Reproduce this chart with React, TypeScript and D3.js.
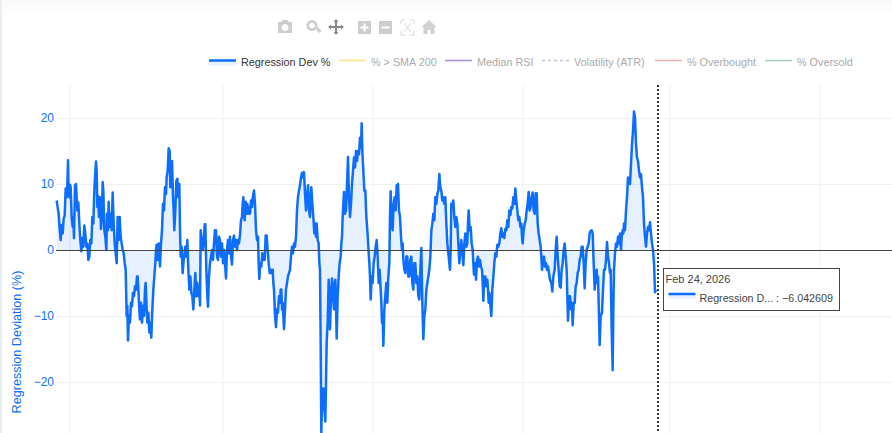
import { useEffect, useRef } from 'react';
import * as d3 from 'd3';

const WIDTH = 892;
const HEIGHT = 433;
const PLOT = { left: 56, right: 892, top: 85, bottom: 433 };
const BLUE = '#0d6efd';
const FONT = 'Arial, "Liberation Sans", Helvetica, sans-serif';

type Sample = [number, number];

// [position on the time axis, regression deviation %], one pixel = 3 units
const regressionFirstStretch: Sample[] = [
  [170, 7.5], [172, 6.8], [176, 5.5], [179, 3.2], [182, 1.5], [185, 3.8], [188, 2.5], [191, 4.8], [194, 5.2], [197, 9.3], [200, 8], [202, 9.8], [204, 13.6], [206, 8.3], [208, 8], [210, 9.9], [212, 9.5], [215, 5], [218, 3.5], [220, 5], [222, 1.8], [225, 9.8], [228, 10], [230, 8], [232, 6], [235, 7.2], [238, 4], [241, 1.5], [244, -0.2], [247, 1.8], [250, 0.5], [253, 3.7], [256, 2.5], [259, 0.5], [262, 1], [265, -1.5], [268, -1], [271, 1.5], [274, 1], [277, 5], [280, 4], [283, 9], [285, 11], [288, 13.4], [290, 12], [292, 6.5], [294, 8.2], [297, 5], [300, 8], [303, 3.2], [306, 5], [308, 10.3], [310, 9], [313, 3], [316, 2], [319, 0], [321, 5.5], [324, 3], [326, 7.3], [329, 3.5], [332, 5.5], [335, 3], [338, 8.7], [341, 4], [344, 1], [347, -0.5], [350, -2], [353, 5], [356, 1.5], [359, 5], [362, 2], [365, 1], [368, 0], [371, -0.5],
  [374, -2], [377, -3], [380, -10], [382, -8.5], [384, -13.7], [387, -10], [390, -11], [393, -8], [396, -8.5], [399, -6.5], [402, -7], [405, -5.5], [408, -6], [411, -4], [413, -4], [416, -7], [418, -9], [420, -10.5], [423, -8], [426, -11], [429, -8.5], [432, -10], [435, -6], [437, -5], [440, -9], [442, -11], [445, -9.5], [448, -12.5], [451, -11], [454, -13.3], [457, -9], [460, -6], [463, -4], [466, -2], [468, 0], [470, 0.8], [473, -1.5], [476, 1], [480, -2.5], [483, 1], [486, 3], [489, 7], [492, 6], [495, 9.5], [498, 8.5], [500, 11], [503, 12], [506, 15.4], [509, 15], [511, 9.5], [514, 11], [516, 13.5], [519, 8], [521, 6], [523, 3], [526, 6], [529, 10.5], [532, 10.8], [535, 8], [538, 10], [540, 3], [542, -1], [545, 0.5], [548, -3.5], [551, -1.5], [553, -1], [556, 0.5], [559, -1], [562, 1.5], [565, -3], [568, -6], [571, -4], [574, -6.5], [577, -7], [580, -9], [583, -6], [586, -3.5], [589, -7], [592, -5], [595, -7], [598, -6], [600, -8.4], [602, 3], [605, 1.5], [608, 0], [611, 1], [614, 3.9], [616, 3.9], [619, -3], [622, -7], [624, -8.6], [627, -4], [630, -2], [633, -1], [636, 0], [639, -1.5], [642, 1], [645, 3], [648, 3], [651, -1], [654, -1.5], [657, 2], [660, 1.5], [663, -1], [666, 1], [669, -2], [672, 0], [675, -2], [678, -4.3], [681, 0], [684, 1.5], [687, -0.5], [690, 2],
];

const regressionSecondStretch: Sample[] = [
  [693, -1], [696, -2.2], [699, 1.5], [702, 2.2], [705, 0.5], [708, 1.5], [711, 0], [714, 1.5], [717, 1], [720, 2.3], [723, 4.5], [726, 5], [728, 7], [730, 8], [732, 5.5], [734, 4.5], [737, 7.3], [740, 5.5], [742, 7], [744, 5.5], [747, 6.5], [750, 5.5], [753, 7.5], [756, 6.5], [759, 8.2], [762, 9], [765, 7], [768, 3], [771, 1.5], [774, 2], [776, -2], [778, -4.4], [781, -2], [784, -2.5], [787, -0.5], [790, -1.5], [794, -1.5], [797, 2.2], [800, 2.2], [803, 0], [806, -2], [809, -3.5], [812, -3], [815, -3.5], [818, -3], [820, -5], [822, -6], [825, -10], [828, -11.7], [831, -9], [834, -9.5], [837, -7], [840, -8], [842, -6], [844, -6], [846, -9], [848, -8], [850, -10], [852, -12], [855, -9], [858, -6], [861, -5], [864, -4], [867, -3.5], [870, -3], [873, -1], [876, 0.5], [879, -0.5], [882, 1], [885, 0.5], [888, 2], [891, 6], [894, 8], [897, 9], [900, 9.8], [903, 11], [906, 11.7], [909, 11], [912, 11.8], [915, 8.5], [918, 6], [921, 8], [924, 9.8], [927, 6], [930, 5], [932, 8], [934, 9.5], [937, 7], [940, 5], [943, 2.5], [946, 4], [948, 2], [950, 4], [953, 1.5], [956, 1], [958, -2], [960, -3], [962, -14], [964, -27.7], [967, -21], [970, -21], [973, -24], [976, -26], [978, -20], [980, -14], [983, -11], [986, -4.5], [988, -7], [990, -12], [993, -7], [996, -4.3], [999, -7], [1002, -9], [1004, -5], [1006, -4.5], [1008, -8], [1010, -13.4], [1013, -7], [1016, -4], [1019, -2], [1022, -1], [1024, 1], [1026, 2], [1028, 5], [1030, 7], [1032, 8.8], [1035, 5.5], [1038, 6], [1041, 10], [1044, 14.1], [1047, 8], [1050, 5], [1053, 7], [1056, 10], [1059, 12], [1062, 14], [1065, 12.5], [1068, 15], [1071, 13.5], [1074, 15], [1077, 14.5], [1080, 17], [1083, 15.5], [1085, 19.2], [1087, 15], [1090, 12], [1093, 9], [1096, 9], [1099, 5], [1102, 3], [1105, 0.5], [1108, -2], [1110, -4], [1112, -7.5], [1115, -4], [1118, -5], [1121, -2], [1124, -1], [1127, 0.5], [1130, 1.5], [1133, -1], [1136, -5], [1139, -3], [1142, -6], [1144, -8], [1146, -11], [1148, -10], [1150, -14.5], [1153, -9], [1156, -7], [1159, -5], [1162, -8], [1165, -4], [1168, -2], [1170, 5], [1172, 8.9], [1175, 4], [1178, 3], [1181, 7], [1184, 8], [1187, 6], [1190, 9.8], [1192, 8], [1194, 10], [1197, 6], [1200, 5], [1203, 2], [1206, 0], [1208, 1], [1210, -1.5], [1213, -3], [1216, -3.5], [1219, -1], [1222, -1], [1225, -4], [1228, -4], [1231, -1.5], [1234, -1], [1237, -5], [1240, -6], [1243, -2], [1246, -2], [1249, -5], [1252, -4], [1255, -7], [1258, -7.5], [1261, -3], [1264, 0.3], [1267, -8], [1270, -13.5], [1273, -10], [1276, -9], [1279, -6], [1282, -5], [1285, -4], [1288, -3], [1291, -1], [1294, 3], [1297, 4], [1300, 5.5], [1303, 4.5], [1306, 8], [1309, 7], [1312, 8.5], [1315, 9], [1318, 11.5], [1321, 9.5], [1324, 9], [1327, 7.5], [1330, 8], [1333, 7], [1336, 8], [1339, 4], [1342, 1], [1346, -1], [1350, -3],
];

const regressionThirdStretch: Sample[] = [
  [1352, 0], [1354, 7], [1357, 6.5], [1360, 7.5], [1363, 5], [1366, 3.5], [1369, 5], [1372, 4], [1375, 1], [1378, -2], [1381, 0], [1384, 1.5], [1387, -0.5], [1390, -2.3], [1393, 1], [1396, 2.5], [1399, 0.5], [1402, 1], [1404, 4], [1406, 6], [1409, 3], [1412, 3.5], [1415, 1], [1418, 0], [1420, -2], [1422, -3.7], [1425, -2], [1428, -4.5], [1431, -1.5], [1434, -1], [1437, -2.5], [1440, -1.5], [1443, -2.5], [1446, -3], [1448, -5], [1450, -7.7], [1453, -4], [1456, -4], [1459, -5.5], [1462, -4.5], [1464, -6], [1466, -8], [1468, -6.5], [1470, -7.5], [1472, -9], [1474, -10], [1477, -6], [1480, -4], [1483, -2], [1486, -0.5], [1489, -1], [1492, 0.8], [1495, 0.5], [1498, 1], [1501, 2.5], [1504, 3.3], [1507, 2], [1510, 2.5], [1513, 1.8], [1516, 3.2], [1519, 3], [1522, 4.5], [1525, 3.5], [1528, 6], [1531, 5.3], [1534, 6.5], [1537, 6.3], [1540, 8], [1543, 7], [1546, 9.3], [1549, 7.5], [1552, 6], [1555, 4.5], [1558, 5], [1561, 3.5], [1564, 4], [1566, 2], [1568, 1], [1571, 3], [1574, 4], [1577, 4.5], [1580, 6], [1583, 7], [1586, 8.8], [1589, 6], [1592, 6.5], [1595, 8], [1598, 8.7], [1601, 6], [1604, 5.5], [1607, 8.6], [1610, 8.6], [1613, 4], [1616, 2.5], [1619, 1.5], [1622, 0.5], [1624, -1], [1626, -3], [1629, -1.5], [1632, -1], [1635, -2.5], [1638, -2], [1641, -3], [1644, -2.5], [1647, -3.5], [1650, -4.5], [1654, -5], [1657, -6.3], [1660, -4], [1664, -3], [1667, 0], [1670, 2], [1673, -1], [1676, -3], [1679, -5.5], [1682, -5.7], [1685, -3], [1688, -2], [1691, 0], [1694, 1], [1697, -1], [1700, -3], [1702, -7], [1704, -10.7], [1707, -7], [1710, -7], [1713, -9], [1716, -8], [1718, -11.4], [1721, -8], [1724, -8], [1727, -5.5], [1730, -5], [1733, -3.5], [1736, -3], [1739, -1.5], [1742, -1], [1745, 0.5], [1748, 0.5], [1751, -2], [1754, -5.8], [1757, -2], [1760, 0], [1763, 0.5], [1766, 1], [1769, 2.5], [1772, 2.9], [1775, 3], [1778, 2.5], [1781, -2], [1784, -6], [1787, -4], [1790, -3], [1792, -5], [1794, -4], [1797, -10], [1799, -14.4], [1802, -10], [1806, -9.5], [1809, -6], [1812, -3], [1815, -3], [1818, -1.5], [1821, 1.2], [1824, -1], [1827, -2], [1830, -3.5], [1832, -3], [1835, -12], [1838, -18.2], [1840, -9], [1842, -3], [1845, -0.5], [1848, 1], [1851, 0.5], [1854, 2], [1857, 1], [1860, 2.5], [1863, 0], [1865, 2], [1868, 3], [1870, 2.5], [1872, 4], [1875, 3], [1878, 6], [1881, 8], [1884, 11], [1887, 10.5], [1890, 10], [1893, 13], [1896, 16], [1899, 18], [1902, 21], [1905, 20], [1908, 16], [1911, 14], [1914, 13.5], [1917, 12], [1920, 11], [1923, 11.5], [1926, 9.5], [1929, 8], [1932, 4], [1935, 2], [1938, 0.5], [1941, 2.5], [1944, 3.5], [1947, 3], [1950, 4.2], [1953, 2.5], [1956, 1], [1959, 0], [1962, -2], [1965, -6.4], [1968, -6.04],
];

const xGridSessions = [210, 669, 1119, 1569, 2010, 2460];
const spikeSession = 1974;
const yTickValues = [-20, -10, 0, 10, 20];

const legendNames = ['Regression Dev %', '% > SMA 200', 'Median RSI', 'Volatility (ATR)', '% Overbought', '% Oversold'];
const legendColors = [BLUE, '#ffc107', '#6f42c1', '#6c757d', '#dc3545', '#198754'];
const legendDash = ['', '', '', '3 3', '', ''];
const legendOpacity = [1, 0.5, 0.6, 0.4, 0.4, 0.4];
const legendSwatchX = [209, 339, 445, 542, 655, 765];

const tooltipDate = 'Feb 24, 2026';
const tooltipLabel = 'Regression D... : −6.042609';

export default function App() {
  const svgRef = useRef<SVGSVGElement | null>(null);

  useEffect(() => {
    const svgEl = svgRef.current;
    if (!svgEl) return;
    const svg = d3.select(svgEl);
    svg.selectAll('*').remove();

    const xScale = d3.scaleLinear().domain([0, 2676]).range([0, WIDTH]);
    const yScale = d3.scaleLinear().domain([-20, 20]).range([382, 118]);

    // ---- page chrome
    const defs = svg.append('defs');
    const grad = defs.append('linearGradient').attr('id', 'top-fade').attr('x2', 0).attr('y2', 1);
    grad.append('stop').attr('offset', 0).attr('stop-color', '#f9f9f9');
    grad.append('stop').attr('offset', 1).attr('stop-color', '#ffffff');
    svg.append('rect').attr('width', WIDTH).attr('height', HEIGHT).attr('fill', '#fff');
    svg.append('rect').attr('width', WIDTH).attr('height', 16).attr('fill', 'url(#top-fade)');
    svg.append('rect').attr('width', 2).attr('height', HEIGHT).attr('fill', '#e9eef3');

    // ---- modebar
    const bar = svg.append('g').attr('fill', '#cdcdcd');
    bar.append('path').attr('d', 'M278 22h3l1.5-2h5l1.5 2h3v11h-14z M285 24a3.5 3.5 0 1 0 .01 0z').attr('fill-rule', 'evenodd');
    bar.append('path').attr('d', 'M312 20a5.5 5.5 0 1 0 .01 0z M312 22.5a3 3 0 1 1-.01 0z M315.5 29l2-2 4 4-2 2z').attr('fill-rule', 'evenodd');
    bar.append('path').attr('d', 'M336 20v14M329 27h14').attr('stroke', '#888').attr('stroke-width', 2).attr('fill', 'none');
    bar.append('path').attr('d', 'M336 19l-2.5 3h5zM336 35l-2.5-3h5zM328 27l3-2.5v5zM344 27l-3-2.5v5z').attr('fill', '#888');
    bar.append('path').attr('d', 'M358 21h13v13h-13z M363.5 23.5v3h-3v2h3v3h2v-3h3v-2h-3v-3z').attr('fill-rule', 'evenodd');
    bar.append('path').attr('d', 'M379 21h13v13h-13z M381.5 26.5v2h8v-2z').attr('fill-rule', 'evenodd');
    bar.append('path').attr('d', 'M401 24v-4h4M410 20h4v4M414 31v4h-4M405 35h-4v-4M404 23l7 9M411 23l-7 9').attr('stroke', '#d8d8d8').attr('stroke-width', 1).attr('fill', 'none');
    bar.append('path').attr('d', 'M429 20l7.5 7h-2v7h-4v-4h-3v4h-4v-7h-2z').attr('fill', '#d2d2d2');

    // ---- legend
    const legend = svg
      .append('g')
      .selectAll('g')
      .data(legendNames)
      .join('g')
      .attr('transform', (_, i) => `translate(${legendSwatchX[i]}, 60.5)`);
    legend
      .filter((_, i) => i === 0)
      .append('rect')
      .attr('y', 0)
      .attr('width', 27)
      .attr('height', 5)
      .attr('fill', BLUE)
      .attr('fill-opacity', 0.1);
    legend
      .append('line')
      .attr('x2', 27)
      .attr('stroke', (_, i) => legendColors[i])
      .attr('stroke-opacity', (_, i) => legendOpacity[i])
      .attr('stroke-width', (_, i) => (i === 0 ? 2.5 : 1.5))
      .attr('stroke-dasharray', (_, i) => legendDash[i]);
    legend
      .append('text')
      .attr('x', 32)
      .attr('y', 5)
      .attr('font-family', FONT)
      .attr('font-size', 10.8)
      .attr('fill', (_, i) => (i === 0 ? '#333' : '#aaa'))
      .text((d) => d);

    // ---- grid
    svg
      .append('g')
      .selectAll('line')
      .data(xGridSessions)
      .join('line')
      .attr('x1', (d) => xScale(d))
      .attr('x2', (d) => xScale(d))
      .attr('y1', PLOT.top)
      .attr('y2', PLOT.bottom)
      .attr('stroke', '#f0f0f0');
    svg
      .append('g')
      .selectAll('line')
      .data(yTickValues.filter((d) => d !== 0))
      .join('line')
      .attr('x1', PLOT.left)
      .attr('x2', PLOT.right)
      .attr('y1', (d) => yScale(d) + 0.5)
      .attr('y2', (d) => yScale(d) + 0.5)
      .attr('stroke', '#f0f0f0');

    // ---- y axis
    svg
      .append('g')
      .selectAll('text')
      .data(yTickValues)
      .join('text')
      .attr('x', 54)
      .attr('y', (d) => yScale(d) + 4)
      .attr('text-anchor', 'end')
      .attr('font-family', FONT)
      .attr('font-size', 12)
      .attr('fill', BLUE)
      .text((d) => String(d).replace('-', '−'));
    svg
      .append('text')
      .attr('transform', 'translate(21, 342) rotate(-90)')
      .attr('text-anchor', 'middle')
      .attr('font-family', FONT)
      .attr('font-size', 12.6)
      .attr('fill', BLUE)
      .text('Regression Deviation (%)');

    // ---- series
    const points = [...regressionFirstStretch, ...regressionSecondStretch, ...regressionThirdStretch];
    svg
      .append('path')
      .datum(points)
      .attr('fill', BLUE)
      .attr('fill-opacity', 0.1)
      .attr(
        'd',
        d3
          .area<Sample>()
          .x((p) => xScale(p[0]))
          .y0(yScale(0))
          .y1((p) => yScale(p[1])),
      );
    svg
      .append('path')
      .datum(points)
      .attr('fill', 'none')
      .attr('stroke', BLUE)
      .attr('stroke-width', 2.5)
      .attr('stroke-linejoin', 'round')
      .attr(
        'd',
        d3
          .line<Sample>()
          .x((p) => xScale(p[0]))
          .y((p) => yScale(p[1])),
      );

    // ---- zero line + spike
    svg
      .append('line')
      .attr('x1', PLOT.left)
      .attr('x2', PLOT.right)
      .attr('y1', yScale(0) + 0.5)
      .attr('y2', yScale(0) + 0.5)
      .attr('stroke', '#444');
    svg
      .append('line')
      .attr('x1', xScale(spikeSession))
      .attr('x2', xScale(spikeSession))
      .attr('y1', PLOT.top)
      .attr('y2', PLOT.bottom)
      .attr('stroke', '#333')
      .attr('stroke-width', 2)
      .attr('stroke-dasharray', '2 2');

    // ---- hover tooltip
    const tip = svg.append('g').attr('transform', 'translate(663.5, 268.5)');
    tip.append('rect').attr('width', 176).attr('height', 42).attr('fill', '#fff').attr('stroke', '#444');
    tip
      .append('text')
      .attr('x', 2)
      .attr('y', 14.5)
      .attr('font-family', FONT)
      .attr('font-size', 11)
      .attr('fill', '#444')
      .text(tooltipDate);
    tip.append('rect').attr('x', 5).attr('y', 25).attr('width', 27).attr('height', 5).attr('fill', BLUE).attr('fill-opacity', 0.1);
    tip.append('line').attr('x1', 5).attr('x2', 32).attr('y1', 25.5).attr('y2', 25.5).attr('stroke', BLUE).attr('stroke-width', 2.5);
    tip
      .append('text')
      .attr('x', 36)
      .attr('y', 33)
      .attr('font-family', FONT)
      .attr('font-size', 10.7)
      .attr('fill', '#444')
      .text(tooltipLabel);
  }, []);

  return (
    <svg
      ref={svgRef}
      width={WIDTH}
      height={HEIGHT}
      viewBox={`0 0 ${WIDTH} ${HEIGHT}`}
      style={{ position: 'fixed', left: 0, top: 0, display: 'block' }}
    />
  );
}
